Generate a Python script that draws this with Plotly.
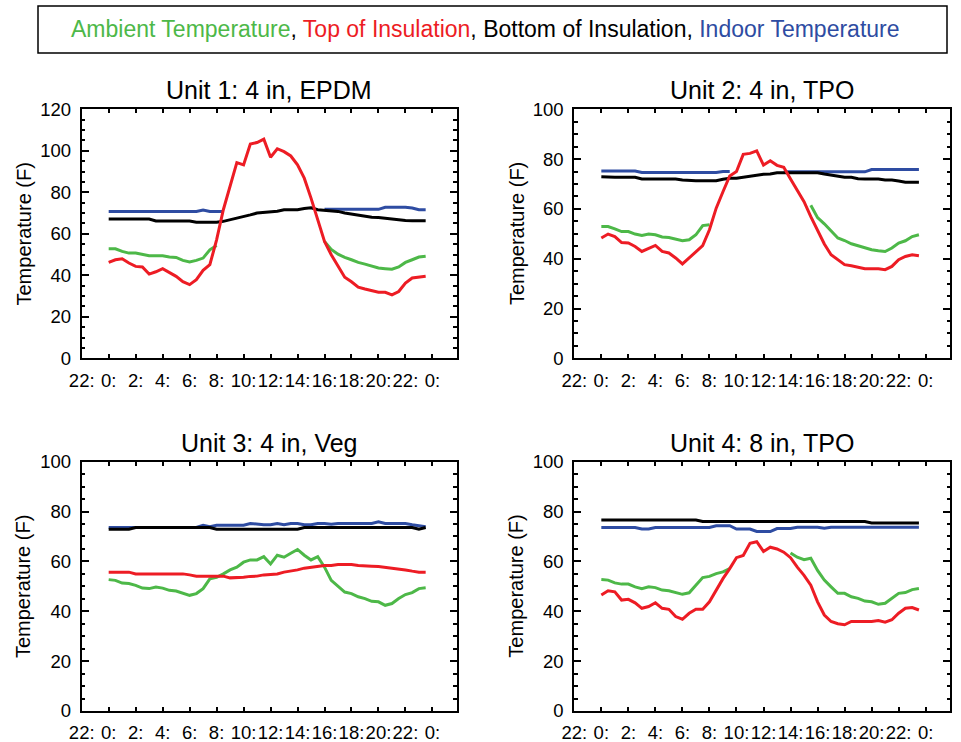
import plotly.graph_objects as go

# ---------------- data ----------------
hours = [0, 0.5, 1, 1.5, 2, 2.5, 3, 3.5, 4, 4.5, 5, 5.5, 6, 6.5, 7, 7.5,
         8, 8.5, 9, 9.5, 10, 10.5, 11, 11.5, 12, 12.5, 13, 13.5, 14, 14.5, 15, 15.5,
         16, 16.5, 17, 17.5, 18, 18.5, 19, 19.5, 20, 20.5, 21, 21.5, 22, 22.5, 23, 23.5]

tick_hours = [-2, 0, 2, 4, 6, 8, 10, 12, 14, 16, 18, 20, 22, 24]
tick_labels = ["22:", "0:", "2:", "4:", "6:", "8:", "10:", "12:", "14:", "16:", "18:", "20:", "22:", "0:"]

N = None

# Unit 1: 4 in, EPDM
u1_amb = [52.8, 52.8, 51.5, 50.7, 50.7, 50.2, 49.4, 49.4, 49.4, 48.8, 48.6, 47.2, 46.4, 47.2, 48.3, 52.3,
          54.4, N, N, N, N, N, N, N, N, N, N, N, N, N, N, N,
          56.3, 52.5, 50.2, 48.6, 47.5, 46.2, 45.4, 44.5, 43.5, 43.2, 42.9, 44.0, 46.2, 47.5, 48.8, 49.2]
u1_top = [46.2, 47.5, 48.0, 45.9, 44.3, 44.0, 40.6, 41.7, 43.2, 41.5, 39.5, 36.9, 35.5, 37.9, 42.4, 45.1,
          57.1, 71.6, 82.8, 94.3, 93.2, 103.3, 104.0, 105.6, 96.9, 101.0, 99.6, 97.5, 93.2, 86.8, 77.2, 66.5,
          56.3, 49.9, 44.3, 39.1, 36.9, 34.3, 33.4, 32.6, 31.8, 31.8, 30.6, 32.2, 36.3, 38.7, 39.1, 39.5]
u1_bot = [67.1, 67.1, 67.1, 67.1, 67.1, 67.1, 67.1, 66.2, 66.2, 66.2, 66.2, 66.2, 66.2, 65.6, 65.6, 65.6,
          65.6, 66.0, 66.7, 67.5, 68.3, 69.1, 70.0, 70.3, 70.8, 70.9, 71.6, 71.6, 71.6, 72.2, 72.5, 71.6,
          71.4, 71.1, 70.8, 70.0, 69.5, 68.8, 68.3, 68.0, 67.9, 67.5, 67.1, 66.7, 66.4, 66.3, 66.3, 66.3]
u1_in = [70.8, 70.8, 70.8, 70.8, 70.8, 70.8, 70.8, 70.8, 70.8, 70.8, 70.8, 70.8, 70.8, 70.8, 71.5, 70.8,
         70.8, 70.8, N, N, N, N, N, N, N, N, N, N, N, N, N, N,
         71.8, 71.8, 71.8, 71.8, 71.8, 71.8, 71.8, 71.8, 71.8, 72.8, 72.8, 72.8, 72.8, 72.4, 71.6, 71.6]

# Unit 2: 4 in, TPO
u2_amb = [52.9, 52.9, 52.0, 50.9, 50.9, 49.9, 49.3, 49.9, 49.6, 48.7, 48.5, 47.9, 47.2, 47.6, 49.6, 53.3,
          53.6, N, N, N, N, N, N, N, N, N, N, N, N, N, N, 61.5,
          56.5, 54.0, 51.0, 48.3, 47.3, 46.0, 45.2, 44.3, 43.6, 43.2, 42.9, 44.3, 46.3, 47.2, 48.9, 49.6]
u2_top = [48.3, 49.9, 48.9, 46.5, 46.3, 44.9, 42.9, 44.0, 45.3, 42.9, 42.3, 40.3, 37.9, 40.3, 42.9, 45.3,
          51.6, 60.3, 66.9, 73.2, 75.0, 81.9, 82.3, 83.3, 77.6, 79.3, 77.5, 76.7, 72.0, 67.2, 62.9, 56.9,
          51.6, 45.9, 41.6, 39.6, 37.6, 37.2, 36.5, 36.0, 36.0, 36.0, 35.6, 36.9, 39.6, 40.9, 41.6, 41.2]
u2_bot = [72.9, 72.7, 72.7, 72.7, 72.7, 72.7, 72.0, 72.0, 72.0, 72.0, 72.0, 72.0, 71.6, 71.3, 71.3, 71.3,
          71.3, 71.3, 71.9, 72.3, 72.3, 72.7, 73.2, 73.5, 73.9, 74.0, 74.5, 74.5, 74.5, 74.5, 74.5, 74.5,
          74.5, 74.0, 73.6, 73.2, 72.7, 72.7, 72.1, 72.0, 72.0, 72.0, 71.6, 71.6, 71.2, 70.7, 70.7, 70.7]
u2_in = [75.2, 75.2, 75.2, 75.2, 75.2, 75.2, 74.6, 74.6, 74.6, 74.6, 74.6, 74.6, 74.6, 74.6, 74.6, 74.6,
         74.6, 74.6, 75.0, 75.0, N, N, N, N, N, N, N, 74.9, 74.9, 74.9, 74.9, 74.9,
         74.9, 74.9, 74.9, 74.9, 74.9, 74.9, 74.9, 74.9, 75.8, 75.8, 75.8, 75.8, 75.8, 75.8, 75.8, 75.8]

# Unit 3: 4 in, Veg
u3_amb = [52.7, 52.4, 51.3, 51.1, 50.4, 49.3, 49.1, 49.7, 49.3, 48.4, 48.1, 47.3, 46.4, 47.1, 49.1, 53.0,
          53.6, 55.0, 56.6, 57.7, 59.7, 60.6, 60.6, 61.9, 59.0, 62.5, 61.7, 63.3, 64.8, 62.5, 60.6, 61.9,
          57.7, 52.4, 50.1, 47.7, 47.1, 45.8, 45.1, 44.0, 43.8, 42.4, 43.1, 45.1, 46.7, 47.5, 49.1, 49.4]
u3_top = [55.7, 55.7, 55.7, 55.7, 55.0, 55.0, 55.0, 55.0, 55.0, 55.0, 55.0, 55.0, 54.6, 54.1, 54.1, 54.1,
          54.1, 54.1, 53.4, 53.4, 53.7, 54.0, 54.1, 54.6, 54.8, 55.0, 55.7, 56.1, 56.6, 57.3, 57.7, 58.1,
          58.4, 58.4, 58.8, 58.8, 58.8, 58.4, 58.1, 58.1, 58.0, 57.7, 57.3, 57.0, 56.6, 56.1, 55.7, 55.7]
u3_bot = [72.9, 72.9, 72.9, 72.9, 73.6, 73.6, 73.6, 73.6, 73.6, 73.6, 73.6, 73.6, 73.6, 73.6, 73.6, 73.6,
          72.9, 72.9, 72.9, 72.9, 72.9, 72.9, 72.9, 72.9, 72.9, 72.9, 72.9, 72.9, 72.9, 73.6, 73.6, 73.6,
          73.6, 73.6, 73.6, 73.6, 73.6, 73.6, 73.6, 73.6, 73.6, 73.6, 73.6, 73.6, 73.6, 73.6, 72.9, 73.6]
u3_in = [73.6, 73.6, 73.6, 73.6, 73.6, 73.6, 73.6, 73.6, 73.6, 73.6, 73.6, 73.6, 73.6, 73.6, 74.5, 73.9,
         74.5, 74.5, 74.5, 74.5, 74.5, 75.2, 74.9, 74.7, 74.7, 75.2, 74.7, 75.2, 75.2, 74.7, 74.7, 75.2,
         75.2, 74.9, 75.2, 75.2, 75.2, 75.2, 75.2, 75.2, 75.9, 75.2, 75.2, 75.2, 75.2, 74.7, 74.3, 73.9]

# Unit 4: 8 in, TPO
u4_amb = [52.7, 52.5, 51.4, 50.9, 50.9, 49.8, 49.1, 49.8, 49.5, 48.5, 48.2, 47.4, 46.8, 47.4, 50.5, 53.5,
          54.0, 55.1, 55.8, 57.1, N, N, N, N, N, N, N, N, 63.4, 61.7, 60.7, 61.3,
          56.4, 52.5, 49.8, 47.2, 47.2, 45.8, 45.2, 44.1, 43.8, 42.8, 43.2, 45.2, 47.2, 47.5, 48.7, 49.1]
u4_top = [46.5, 48.2, 47.8, 44.5, 44.8, 43.4, 41.2, 41.9, 43.4, 41.2, 40.8, 37.9, 36.8, 39.2, 40.8, 40.8,
          43.8, 48.5, 53.1, 57.1, 61.5, 62.4, 67.3, 67.9, 64.0, 65.7, 65.0, 63.7, 61.5, 57.7, 54.4, 50.5,
          43.8, 38.5, 35.9, 35.0, 34.6, 35.9, 35.9, 35.6, 35.9, 36.3, 35.6, 36.6, 39.2, 41.2, 41.5, 40.5]
u4_bot = [76.6, 76.6, 76.6, 76.6, 76.6, 76.6, 76.6, 76.6, 76.6, 76.6, 76.6, 76.6, 76.6, 76.6, 76.6, 76.0,
          76.0, 76.0, 76.0, 76.0, 76.0, 76.0, 76.0, 76.0, 76.0, 76.0, 76.0, 76.0, 76.0, 76.0, 76.0, 76.0,
          76.0, 76.0, 76.0, 76.0, 76.0, 76.0, 76.0, 76.0, 75.4, 75.4, 75.4, 75.4, 75.4, 75.4, 75.4, 75.4]
u4_in = [73.6, 73.6, 73.6, 73.6, 73.6, 73.6, 73.0, 73.0, 73.6, 73.6, 73.6, 73.6, 73.6, 73.6, 73.6, 73.6,
         73.6, 74.3, 74.3, 74.3, 73.0, 73.0, 73.0, 72.0, 72.0, 72.0, 73.2, 73.2, 73.2, 73.7, 73.7, 73.7,
         73.7, 73.3, 73.7, 73.7, 73.7, 73.7, 73.7, 73.7, 73.7, 73.7, 73.7, 73.7, 73.7, 73.7, 73.7, 73.7]

titles = ["Unit 1: 4 in, EPDM", "Unit 2: 4 in, TPO", "Unit 3: 4 in, Veg", "Unit 4: 8 in, TPO"]
y_max = [120, 100, 100, 100]
series_names = ["Ambient Temperature", "Top of Insulation", "Bottom of Insulation", "Indoor Temperature"]
units = [
    (u1_amb, u1_top, u1_bot, u1_in),
    (u2_amb, u2_top, u2_bot, u2_in),
    (u3_amb, u3_top, u3_bot, u3_in),
    (u4_amb, u4_top, u4_bot, u4_in),
]

# ---------------- style ----------------
GREEN = "#4DB848"
RED = "#ED1C24"
BLACK = "#000000"
BLUE = "#2E4CA2"
FONT = "Liberation Sans, Arial, Helvetica, sans-serif"
W, H = 961, 742

# panel boxes in pixels: (left, right, top, bottom)
boxes = [(81.7, 456.7, 109.3, 358.3), (574.3, 950.0, 109.3, 358.3),
         (81.7, 456.7, 461.7, 711.0), (574.3, 950.0, 461.7, 711.0)]

fig = go.Figure()
layout = dict(template="none", width=W, height=H, margin=dict(l=0, r=0, t=0, b=0, pad=0),
              paper_bgcolor="white", plot_bgcolor="white", showlegend=False,
              annotations=[], shapes=[])

for i, (amb, top, bot, ind) in enumerate(units):
    k = "" if i == 0 else str(i + 1)
    xa, ya = "x" + k, "y" + k
    # draw order: ambient, indoor, bottom, top
    for vals, col, nm in [(amb, GREEN, series_names[0]), (ind, BLUE, series_names[3]),
                          (bot, BLACK, series_names[2]), (top, RED, series_names[1])]:
        fig.add_trace(go.Scatter(x=hours, y=vals, mode="lines", name=nm,
                                 line=dict(color=col, width=3), connectgaps=False,
                                 xaxis=xa, yaxis=ya, hoverinfo="skip"))
    l, r, t, b = boxes[i]
    layout["xaxis" + k] = dict(
        domain=[l / W, r / W], anchor=ya, range=[-2, 25.8], automargin=False,
        tickvals=tick_hours, ticktext=tick_labels, tickangle=0, ticks="inside", ticklen=4,
        tickwidth=1.5, tickcolor=BLACK, showline=True, linewidth=2, linecolor=BLACK,
        mirror="allticks", showgrid=False, zeroline=False,
        tickfont=dict(family=FONT, size=18.5, color=BLACK), ticklabelstandoff=4)
    layout["yaxis" + k] = dict(
        domain=[1 - b / H, 1 - t / H], anchor=xa, range=[0, y_max[i]], automargin=False,
        tickmode="linear", tick0=0, dtick=20, ticks="inside", ticklen=7,
        tickwidth=1.5, tickcolor=BLACK, showline=True, linewidth=2, linecolor=BLACK,
        mirror="allticks", showgrid=False, zeroline=False,
        minor=dict(ticks="inside", ticklen=3.5, dtick=5, tickwidth=1.5, tickcolor=BLACK, showgrid=False),
        tickfont=dict(family=FONT, size=18.5, color=BLACK), ticklabelstandoff=5)
    layout["annotations"].append(dict(
        text=titles[i], xref=xa + " domain", yref=ya + " domain", x=0.5, y=1,
        xanchor="center", yanchor="middle", yshift=19, showarrow=False,
        font=dict(family=FONT, size=25, color=BLACK)))
    layout["annotations"].append(dict(
        text="Temperature (F)", xref=xa + " domain", yref=ya + " domain", x=0, y=0.5,
        xanchor="center", yanchor="middle", xshift=-58, textangle=-90, showarrow=False,
        font=dict(family=FONT, size=20, color=BLACK)))

legend_text = ('<span style="color:%s">%s</span>, <span style="color:%s">%s</span>, '
               '<span style="color:%s">%s</span>, <span style="color:%s">%s</span>') % (
    GREEN, series_names[0], RED, series_names[1], BLACK, series_names[2], BLUE, series_names[3])
layout["annotations"].append(dict(
    text=legend_text, xref="paper", yref="paper", x=485 / W, y=1 - 29 / H,
    xanchor="center", yanchor="middle", showarrow=False,
    font=dict(family=FONT, size=23, color=BLACK)))
layout["shapes"].append(dict(
    type="rect", xref="paper", yref="paper", x0=38 / W, x1=947 / W, y0=1 - 53 / H, y1=1 - 6 / H,
    line=dict(color=BLACK, width=1.5), fillcolor="rgba(0,0,0,0)"))

fig.update_layout(**layout)
fig.write_html("out.html")
